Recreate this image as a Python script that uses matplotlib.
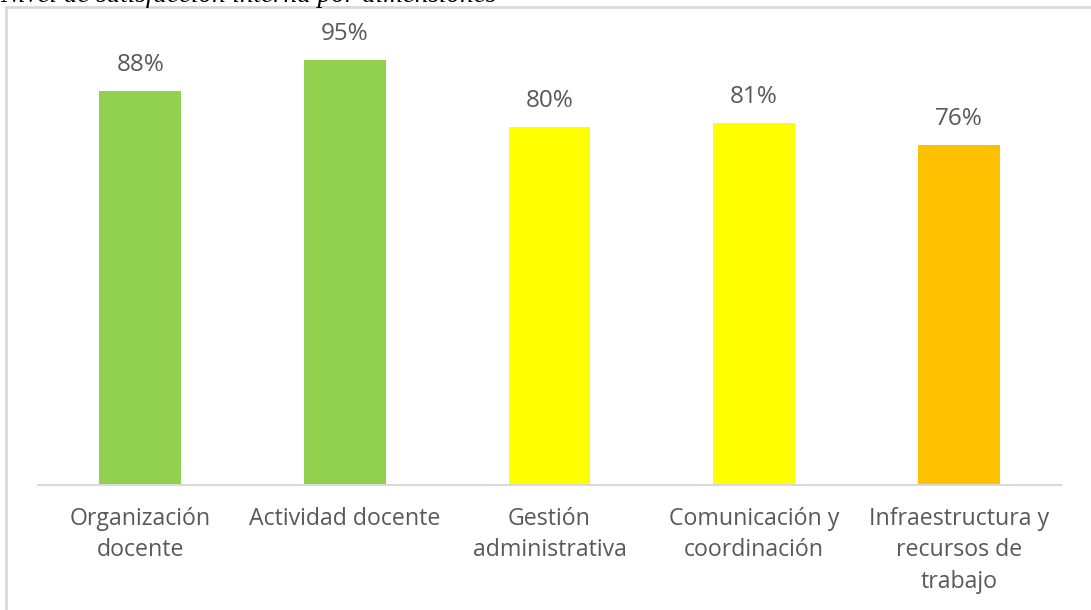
import matplotlib
matplotlib.use("Agg")
import matplotlib.pyplot as plt
import matplotlib.patches as mpatches

categorias = ["Organización\ndocente", "Actividad docente", "Gestión\nadministrativa",
              "Comunicación y\ncoordinación", "Infraestructura y\nrecursos de\ntrabajo"]
valores = [88, 95, 80, 81, 76]
colores = ["#92D050", "#92D050", "#FFFF00", "#FFFF00", "#FFC000"]

GRIS = "#595959"
plt.rcParams["font.family"] = ["Open Sans", "DejaVu Sans"]

fig = plt.figure(figsize=(10.91, 6.10), dpi=100)
fig.patch.set_facecolor("white")

# marco del gráfico
marco = mpatches.Rectangle((6 / 1091, -0.05), 1.2, 1 - 7 / 610 + 0.05,
                           transform=fig.transFigure, fill=False,
                           edgecolor="#d9d9d9", linewidth=2, clip_on=False)
fig.patches.append(marco)

# título recortado arriba
fig.text(0, 1 - 1.5 / 610, "Nivel de satisfacción interna por dimensiones",
         family="Liberation Serif", style="italic", fontsize=19.5, color="black",
         ha="left", va="baseline")

ax = fig.add_axes([38 / 1091, 1 - 485 / 610, (1061 - 38) / 1091, (485 - 37.6) / 610])
x = range(len(categorias))
barras = ax.bar(x, valores, width=0.4, color=colores)
ax.set_xlim(-0.5, 4.5)
ax.set_ylim(0, 100)

for b, v in zip(barras, valores):
    ax.annotate(f"{v}%", (b.get_x() + b.get_width() / 2, v), xytext=(0, 10),
                textcoords="offset points", ha="center", va="bottom",
                fontsize=17.5, color=GRIS)

for s in ["top", "right", "left"]:
    ax.spines[s].set_visible(False)
ax.spines["bottom"].set_color("#d9d9d9")
ax.spines["bottom"].set_linewidth(1.5)
ax.set_yticks([])
ax.set_xticks(list(x))
ax.set_xticklabels(categorias, fontsize=16.7, color=GRIS, linespacing=1.4)
ax.tick_params(axis="x", length=0, pad=16)

plt.savefig("out.png", dpi=100)
